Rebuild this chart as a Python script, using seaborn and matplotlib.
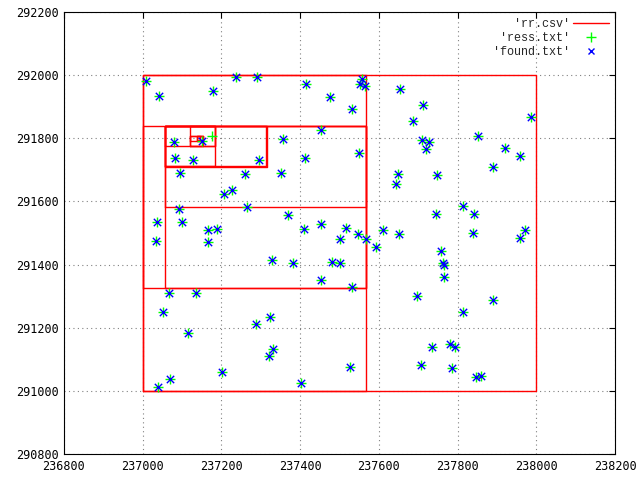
import matplotlib
matplotlib.use("Agg")
import matplotlib.pyplot as plt
import seaborn as sns
import pandas as pd
import numpy as np
from matplotlib.lines import Line2D

# ---- data ----
found_x = [237008, 237041, 237178, 237236, 237290, 237414, 237475, 237452, 237356, 237079,
           237150, 237081, 237127, 237295, 237412, 237094, 237259, 237351, 237556, 237551,
           237566, 237653, 237531, 237711, 237686, 237986, 237851, 237709, 237727, 237719,
           237549, 237920, 237958, 237889, 237648, 237747, 237643, 237206, 237226, 237091,
           237264, 237368, 237036, 237099, 237165, 237188, 237409, 237452, 237033, 237165,
           237328, 237381, 237480, 237501, 237452, 237813, 237745, 237841, 237516, 237610,
           237546, 237650, 237567, 237501, 237839, 237971, 237958, 237592, 237757, 237762,
           237765, 237765, 237531, 237696, 237889, 237813, 237734, 237780, 237793, 237526,
           237706, 237785, 237846, 237859, 237066, 237135, 237051, 237287, 237323, 237114,
           237330, 237320, 237201, 237069, 237038, 237401]
found_y = [291982, 291934, 291950, 291995, 291995, 291972, 291931, 291827, 291798, 291789,
           291792, 291738, 291732, 291732, 291738, 291691, 291688, 291691, 291988, 291972,
           291966, 291957, 291893, 291906, 291855, 291868, 291808, 291795, 291789, 291767,
           291754, 291770, 291745, 291710, 291688, 291684, 291656, 291624, 291637, 291577,
           291583, 291558, 291536, 291536, 291511, 291514, 291514, 291527, 291476, 291470,
           291415, 291406, 291409, 291406, 291352, 291586, 291561, 291561, 291517, 291511,
           291498, 291498, 291482, 291482, 291501, 291510, 291485, 291457, 291442, 291404,
           291398, 291360, 291328, 291300, 291287, 291250, 291140, 291150, 291140, 291074,
           291083, 291071, 291043, 291046, 291311, 291311, 291251, 291213, 291235, 291183,
           291133, 291111, 291061, 291039, 291011, 291024]

# ress.txt = all found points plus one extra
ress_extra_x = [237176]
ress_extra_y = [291807]
ress_x = found_x + ress_extra_x
ress_y = found_y + ress_extra_y

# rr.csv rectangles (x0, y0, x1, y1)
rect_x0 = [237000, 237000, 237000, 237057, 237057, 237057, 237057, 237057, 237057, 237120, 237120, 237120, 237137, 237139]
rect_y0 = [291000, 291000, 291326, 291326, 291582, 291711, 291708, 291711, 291775, 291775, 291775, 291792, 291792, 291795]
rect_x1 = [238000, 237567, 237567, 237567, 237567, 237312, 237315, 237184, 237184, 237184, 237153, 237153, 237153, 237145]
rect_y1 = [292000, 292000, 291839, 291839, 291839, 291839, 291839, 291839, 291839, 291839, 291808, 291808, 291808, 291806]

xticks = [236800, 237000, 237200, 237400, 237600, 237800, 238000, 238200]
yticks = [290800, 291000, 291200, 291400, 291600, 291800, 292000, 292200]

# ---- build rectangle outline table ----
rows = []
for i, (a, b, c, d) in enumerate(zip(rect_x0, rect_y0, rect_x1, rect_y1)):
    for k, (px, py) in enumerate([(a, b), (c, b), (c, d), (a, d), (a, b)]):
        rows.append({"rid": i, "order": k, "x": px, "y": py})
rdf = pd.DataFrame(rows)

sns.set_style("white")
plt.rcParams["font.family"] = ["DejaVu Sans Mono", "DejaVu Sans"]

fig = plt.figure(figsize=(6.38, 4.78), dpi=100)
ax = fig.add_axes([0.1003, 0.0502, 0.8637, 0.9247])

sns.lineplot(data=rdf, x="x", y="y", units="rid", estimator=None, sort=False,
             color="#ff0000", linewidth=1.0, ax=ax, legend=False, zorder=2)
sns.scatterplot(x=ress_x, y=ress_y, marker="+", s=45, color="#00ff00",
                linewidth=1.0, ax=ax, legend=False, zorder=3)
sns.scatterplot(x=found_x, y=found_y, marker="x", s=28, color="#0000ff",
                linewidth=1.0, ax=ax, legend=False, zorder=4)

ax.set_xlim(xticks[0], xticks[-1])
ax.set_ylim(yticks[0], yticks[-1])
ax.set_xticks(xticks)
ax.set_yticks(yticks)
ax.set_xticklabels([str(t) for t in xticks])
ax.set_yticklabels([str(t) for t in yticks])
ax.set_xlabel("")
ax.set_ylabel("")
ax.tick_params(direction="in", length=4, width=0.8, top=True, right=True,
               labelsize=8.5, colors="black", pad=4)
ax.grid(True, linestyle=(0, (1, 3)), color="#808080", linewidth=0.8)
for sp in ax.spines.values():
    sp.set_color("black")
    sp.set_linewidth(0.8)

handles = [
    Line2D([], [], color="#ff0000", lw=1.0),
    Line2D([], [], color="#00ff00", marker="+", ls="", ms=6.5, mew=1.0),
    Line2D([], [], color="#0000ff", marker="x", ls="", ms=5, mew=1.0),
]
labels = ["'rr.csv'", "'ress.txt'", "'found.txt'"]
leg = ax.legend(handles, labels, loc="upper right", frameon=False, markerfirst=False,
                handlelength=3.0, handletextpad=0.3, labelspacing=0.15,
                borderaxespad=0.15, prop={"family": "Liberation Mono", "size": 8.5})
for t in leg.get_texts():
    t.set_ha("right")
leg._legend_box.align = "right"

fig.savefig("out.png", dpi=100)
